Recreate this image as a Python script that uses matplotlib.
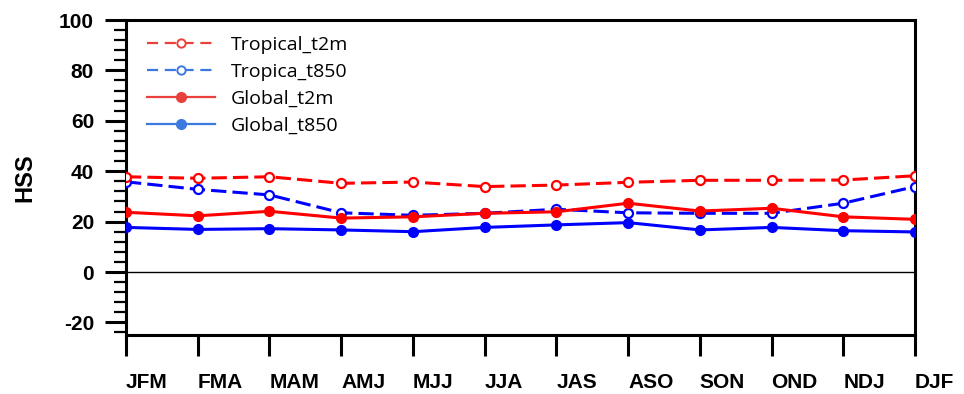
"""
HSS by 3-month season for tropical / global t2m and t850.
"""
import matplotlib
matplotlib.use('Agg')
import matplotlib.pyplot as plt
from matplotlib.lines import Line2D
from matplotlib.ticker import MultipleLocator

plt.rcParams['axes.unicode_minus'] = False

seasons = ['JFM', 'FMA', 'MAM', 'AMJ', 'MJJ', 'JJA',
           'JAS', 'ASO', 'SON', 'OND', 'NDJ', 'DJF']
tropical_t2m = [37.8, 37.2, 37.8, 35.2, 35.7, 33.9, 34.5, 35.6, 36.4, 36.4, 36.5, 38.2]
tropica_t850 = [35.8, 32.8, 30.6, 23.5, 22.5, 23.3, 24.9, 23.5, 23.3, 23.3, 27.3, 33.9]
global_t2m = [23.7, 22.3, 24.1, 21.4, 21.9, 23.3, 23.9, 27.3, 24.2, 25.3, 21.9, 20.9]
global_t850 = [17.7, 16.9, 17.2, 16.7, 16.0, 17.7, 18.7, 19.6, 16.7, 17.7, 16.4, 15.9]
series_names = ['Tropical_t2m', 'Tropica_t850', 'Global_t2m', 'Global_t850']

x = list(range(len(seasons)))

fig = plt.figure(figsize=(9.64, 3.94), dpi=100)
ax = fig.add_axes([0.1307, 0.1497, 0.8185, 0.7995])

lw = 2.2
dash = (5, 2)
ax.plot(x, tropical_t2m, color='red', lw=lw, dashes=dash, marker='o', ms=6.5,
        mfc='white', mec='red', mew=1.6, zorder=4)
ax.plot(x, tropica_t850, color='blue', lw=lw, dashes=dash, marker='o', ms=6.5,
        mfc='white', mec='blue', mew=1.6, zorder=3)
ax.plot(x, global_t2m, color='red', lw=lw, marker='o', ms=7, zorder=4)
ax.plot(x, global_t850, color='blue', lw=lw, marker='o', ms=7, zorder=3)

ax.axhline(0, color='black', lw=1.0, zorder=1)

ax.set_xlim(0, 11)
ax.set_ylim(-25, 100)

# NCL-like axis look
for sp in ax.spines.values():
    sp.set_linewidth(2.2)
ax.yaxis.set_major_locator(MultipleLocator(20))
ax.yaxis.set_minor_locator(MultipleLocator(4))
ax.tick_params(axis='y', which='major', direction='out', length=15, width=2.2,
               pad=8, labelsize=15)
ax.tick_params(axis='y', which='minor', direction='out', length=9, width=1.6)
ax.set_xticks(x)
ax.set_xticklabels(seasons)
ax.tick_params(axis='x', which='major', direction='out', length=15, width=2.2,
               pad=12, labelsize=15)
for lab in ax.get_xticklabels():
    lab.set_horizontalalignment('left')
    lab.set_fontfamily('Liberation Sans')
    lab.set_fontweight('bold')
for lab in ax.get_yticklabels():
    lab.set_fontfamily('Liberation Sans')
    lab.set_fontweight('bold')

ax.set_ylabel('HSS', fontsize=17, fontweight='bold', family='Liberation Sans',
              labelpad=16)

# legend (lighter colours, like the pasted key in the original)
leg_red = '#e8413c'
leg_blue = '#3b78e0'
handles = [
    Line2D([], [], color=leg_red, lw=1.6, dashes=(5, 3), marker='o', ms=6,
           mfc='white', mec=leg_red, mew=1.4),
    Line2D([], [], color=leg_blue, lw=1.6, dashes=(5, 3), marker='o', ms=6,
           mfc='white', mec=leg_blue, mew=1.4),
    Line2D([], [], color=leg_red, lw=1.6, marker='o', ms=7),
    Line2D([], [], color=leg_blue, lw=1.6, marker='o', ms=7),
]
ax.legend(handles, series_names, loc='upper left', bbox_to_anchor=(0.027, 0.95),
          frameon=False, borderaxespad=0, borderpad=0, handlelength=3.5,
          handletextpad=0.8, labelspacing=0.47,
          prop={'family': 'Open Sans', 'size': 14})

plt.savefig('out.png', dpi=100)
plt.close()
